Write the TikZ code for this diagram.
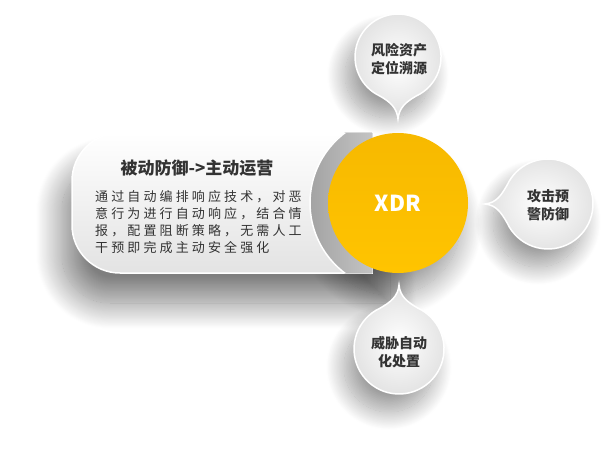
\documentclass[tikz,border=0pt]{standalone}
\usepackage{fontspec}
\setmainfont{Noto Sans CJK SC}
\newfontfamily\bodyfont[LetterSpace=24]{Noto Sans CJK SC}
\usetikzlibrary{shadows.blur}

\definecolor{xdryellow}{HTML}{FFC400}
\definecolor{xdrdark}{HTML}{F7B900}
\definecolor{textgray}{HTML}{333333}

\tikzset{
  capsule/.style={top color=white, bottom color=gray!22, draw=white, line width=1.5pt},
  xdrball/.style={circle, minimum size=140pt, inner sep=0pt, top color=xdrdark, bottom color=xdryellow,
    text=white, font=\bfseries\fontsize{22}{26}\selectfont},
  bubble/.style={inner color=white, outer color=gray!24, draw=white, line width=1.5pt},
  softshadow/.style={blur shadow={shadow xshift=-10pt, shadow yshift=-18pt, shadow blur radius=18pt,
      shadow opacity=38, shadow blur steps=30}},
  bubbletext/.style={font=\bfseries\fontsize{14}{18}\selectfont, text=textgray, align=center},
}

\begin{document}
\begin{tikzpicture}[x=1pt,y=1pt]
  \useasboundingbox (0,0) rectangle (607,464);

  % shadows first
  \path[blur shadow={shadow xshift=-10pt, shadow yshift=-30pt, shadow blur radius=26pt,
      shadow opacity=50, shadow blur steps=30}]
    (400,331) -- (120,331) arc[start angle=90, end angle=180, radius=48] -- (72,239)
    arc[start angle=180, end angle=270, radius=48] -- (400,191) -- cycle;
  \path[blur shadow={shadow xshift=-8pt, shadow yshift=-22pt, shadow blur radius=22pt,
      shadow opacity=40, shadow blur steps=30}] (398,261) circle (70);
  \path[softshadow] (398,407) circle (43);
  \path[softshadow] (548,260) circle (45);
  \path[softshadow] (399,115) circle (45);

  % capsule with text
  \path[capsule]
    (372,331) -- (120,331) arc[start angle=90, end angle=180, radius=48] -- (72,239)
    arc[start angle=180, end angle=270, radius=48] -- (372,191) -- cycle;
  \begin{scope}
    \clip (372,331) -- (120,331) arc[start angle=90, end angle=180, radius=48] -- (72,239)
      arc[start angle=180, end angle=270, radius=48] -- (372,191) -- cycle;
    \fill[left color=gray!72, right color=white] (398,261) circle (88);
    \draw[white, line width=1.5pt] (398,261) circle (88);
  \end{scope}

  \node[font=\bfseries\fontsize{17}{20}\selectfont, text=textgray] (title) at (197,296) {被动防御->主动运营};
  \node[anchor=west, align=left, inner sep=0pt, text=textgray, font=\bodyfont\fontsize{13}{17}\selectfont] (body) at (95,241.5)
    {通过自动编排响应技术，对恶\\意行为进行自动响应，结合情\\报，配置阻断策略，无需人工\\干预即完成主动安全强化};

  % center
  \node[xdrball] (xdr) at (398,261) {XDR};

  % bubbles
  \path[bubble] (416.2,368.0) arc[start angle=-65, end angle=245, radius=43]
    to[out=-30, in=95] (398,345) to[out=85, in=-150] (416.2,368.0) -- cycle;
  \path[bubble] (507.2,241.0) arc[start angle=205, end angle=515, radius=45]
    to[out=240, in=5] (485,260) to[out=355, in=120] (507.2,241.0) -- cycle;
  \path[bubble] (380.0,155.8) arc[start angle=115, end angle=425, radius=45]
    to[out=150, in=275] (399,179) to[out=265, in=30] (380.0,155.8) -- cycle;

  \node[bubbletext] (risk) at (399,405) {风险资产\\定位溯源};
  \node[bubbletext] (attack) at (548,259) {攻击预\\警防御};
  \node[bubbletext] (threat) at (399,112) {威胁自动\\化处置};
\end{tikzpicture}
\end{document}
